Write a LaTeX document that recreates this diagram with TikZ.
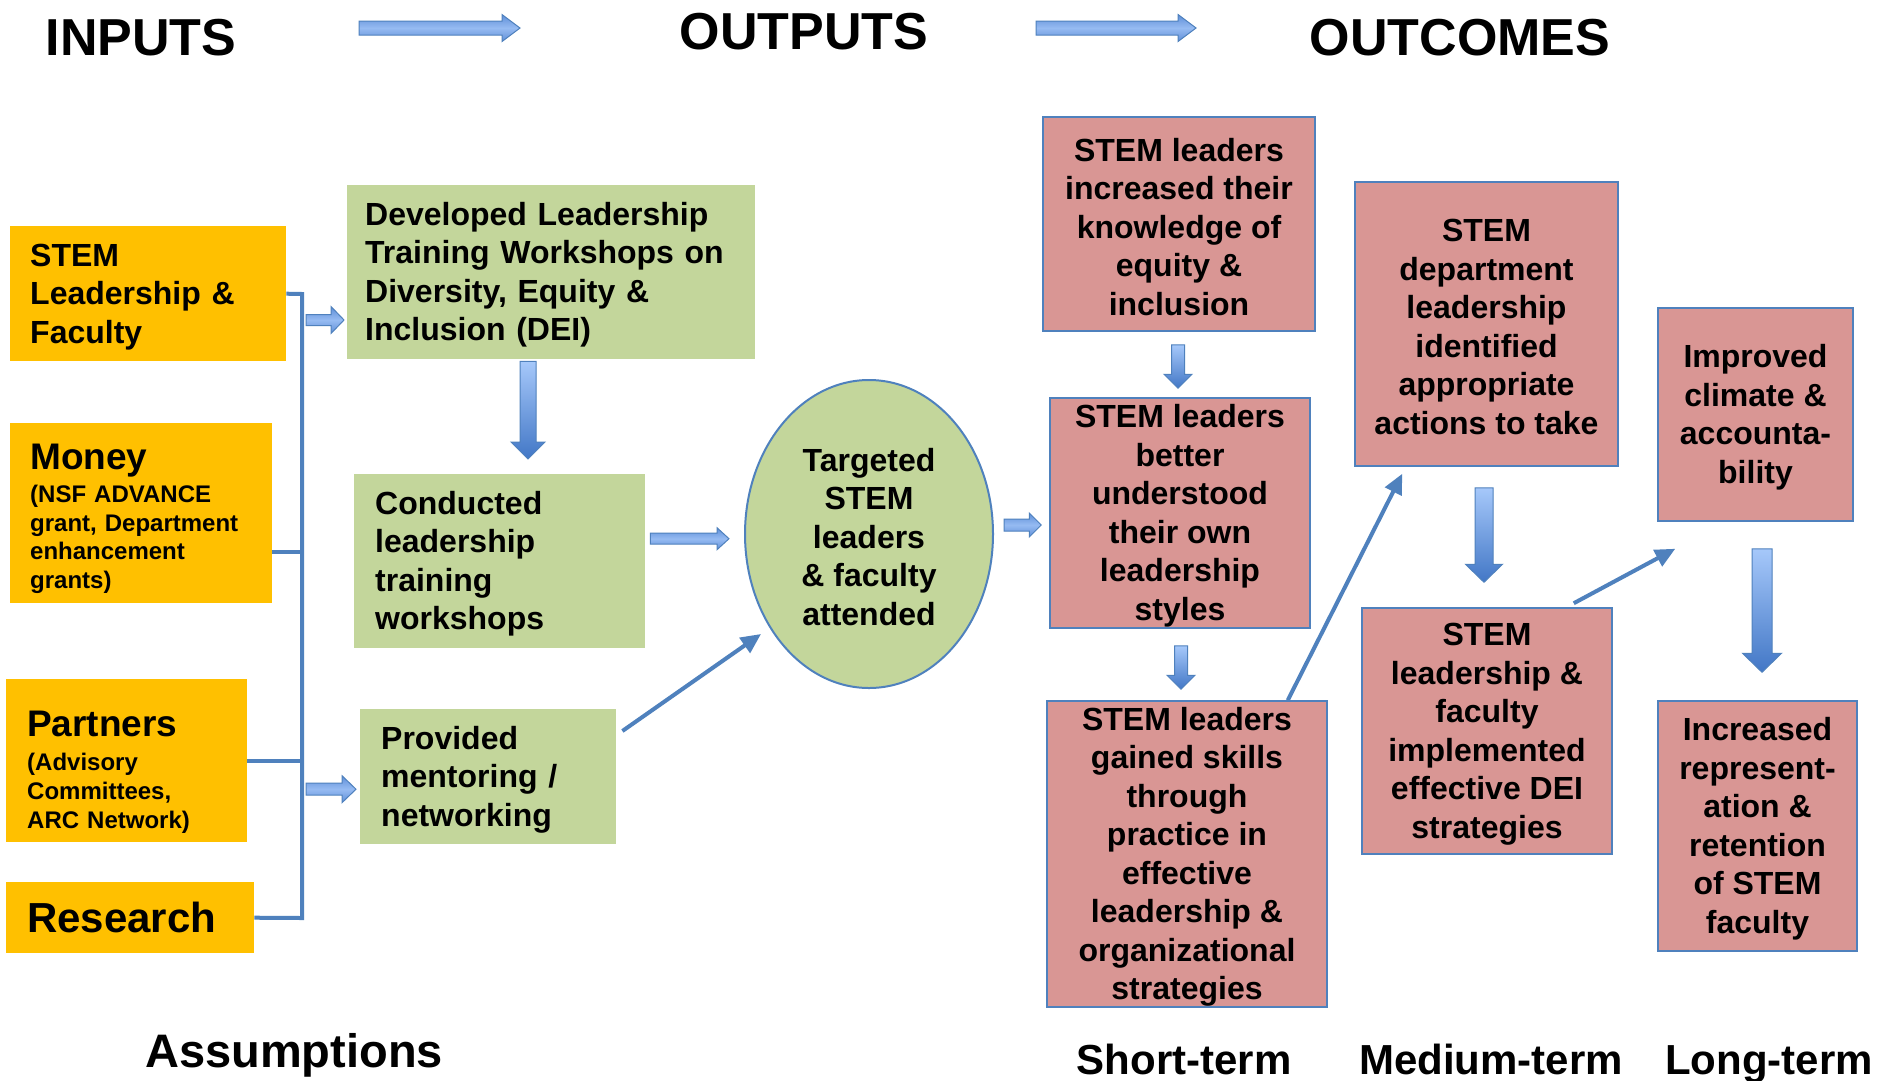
\documentclass[tikz,border=0pt]{standalone}
\usepackage{fontspec}
\setmainfont{Liberation Sans}
\usetikzlibrary{calc,shapes.geometric,arrows.meta}

\definecolor{inYellow}{HTML}{FFC000}
\definecolor{outGreen}{HTML}{C3D69B}
\definecolor{outPink}{HTML}{D99694}
\definecolor{linkBlue}{HTML}{4F81BD}
\definecolor{arrLight}{HTML}{96BBF2}
\definecolor{arrMid}{HTML}{5F8FD8}
\definecolor{arrTop}{HTML}{A6C8FA}
\definecolor{arrDark}{HTML}{4277C6}

% taller first line, so that a block of lines sits a little lower in its box
\newcommand{\firstline}{\rule{0pt}{28.5pt}}

\tikzset{
  body/.style={font=\bfseries\fontsize{32}{38.5}\selectfont},
  inbox/.style={fill=inYellow, anchor=north west, align=left, inner ysep=0pt},
  outbox/.style={fill=outGreen, anchor=north west, align=left, inner ysep=0pt, body,
    execute at begin node={\firstline}},
  resbox/.style={fill=outPink, draw=linkBlue, line width=1.5pt, align=center, inner sep=0pt, body},
  heading/.style={font=\bfseries\fontsize{52}{60}\selectfont, anchor=base},
  termlabel/.style={font=\bfseries\fontsize{42}{50}\selectfont, anchor=base},
  bracket/.style={draw=linkBlue, line width=4pt},
  thinarrow/.style={draw=linkBlue, line width=4pt, -{Triangle[length=20pt,width=18pt]}},
  hblock/.style={draw=linkBlue, line width=1pt, top color=arrMid, bottom color=arrMid, middle color=arrLight},
  vblock/.style={draw=linkBlue, line width=1pt, top color=arrTop, bottom color=arrDark},
}

% block arrow pointing right: tail, tip, shaft half-width, head half-width, head length
\newcommand{\rightblock}[5]{%
  \path[hblock] let \p1=(#1), \p2=(#2) in
    (\x1,\y1+#3pt) -- (\x2-#5pt,\y1+#3pt) -- (\x2-#5pt,\y1+#4pt) -- (\x2,\y1)
    -- (\x2-#5pt,\y1-#4pt) -- (\x2-#5pt,\y1-#3pt) -- (\x1,\y1-#3pt) -- cycle;}
% block arrow pointing down: tail, tip, shaft half-width, head half-width, head length
\newcommand{\downblock}[5]{%
  \path[vblock] let \p1=(#1), \p2=(#2) in
    (\x1-#3pt,\y1) -- (\x1-#3pt,\y2+#5pt) -- (\x1-#4pt,\y2+#5pt) -- (\x1,\y2)
    -- (\x1+#4pt,\y2+#5pt) -- (\x1+#3pt,\y2+#5pt) -- (\x1+#3pt,\y1) -- cycle;}

\begin{document}
\begin{tikzpicture}[x=1pt, y=-1pt]
\fill[white] (0,0) rectangle (1895,1080);
\useasboundingbox (0,0) rectangle (1895,1080);

% column headings
\node[heading] (hin)  at (141,55) {INPUTS};
\node[heading] (hout) at (804,49) {OUTPUTS};
\node[heading] (hoc)  at (1460,55) {OUTCOMES};
\coordinate (flowA0) at (359,28);
\coordinate (flowA1) at (520,28);
\coordinate (flowB0) at (1036,28);
\coordinate (flowB1) at (1196,28);
\rightblock{flowA0}{flowA1}{7}{13.5}{18}
\rightblock{flowB0}{flowB1}{7}{13.5}{18}

% inputs
\node[inbox, body, minimum width=276pt, minimum height=135pt, text width=236pt, inner xsep=20pt]
  (yl1) at (10,226) {\firstline STEM\\ Leadership \&\\ Faculty};
\node[inbox, font=\bfseries\fontsize{24}{28.6}\selectfont, minimum width=262pt, minimum height=180pt,
  text width=222pt, inner xsep=20pt]
  (yl2) at (10,423) {\rule{0pt}{37pt}{\fontsize{37}{40}\selectfont Money}\\[4pt] (NSF ADVANCE\\ grant, Department\\ enhancement\\ grants)};
\node[inbox, font=\bfseries\fontsize{24}{28.6}\selectfont, minimum width=241pt, minimum height=163pt,
  text width=199pt, inner xsep=21pt]
  (yl3) at (6,679) {\rule{0pt}{48pt}{\fontsize{37}{40}\selectfont Partners}\\[6pt] (Advisory\\ Committees,\\ ARC Network)};
\node[inbox, font=\bfseries\fontsize{42}{48}\selectfont, minimum width=248pt, minimum height=71pt,
  text width=206pt, inner xsep=21pt]
  (yl4) at (6,882) {Research};

% bracket gathering the inputs
\coordinate (spineTop) at (302,294);
\coordinate (spineBot) at (302,918);
\draw[bracket] (yl1.east) -- (spineTop) -- (spineBot) -- (yl4.east);
\draw[bracket] ($(yl2.east)+(0,39)$) -- ($(yl2.east -| spineTop)+(0,39)$);
\draw[bracket] (yl3.east) -- (yl3.east -| spineTop);

% outputs
\node[outbox, minimum width=408pt, minimum height=174pt, text width=372pt, inner xsep=18pt]
  (dev) at (347,185) {Developed Leadership\\ Training Workshops on\\ Diversity, Equity \&\\ Inclusion (DEI)};
\node[outbox, minimum width=291pt, minimum height=174pt, text width=249pt, inner xsep=21pt]
  (cond) at (354,474) {Conducted\\ leadership\\ training\\ workshops};
\node[outbox, minimum width=256pt, minimum height=135pt, text width=214pt, inner xsep=21pt]
  (prov) at (360,709) {Provided\\ mentoring /\\ networking};
\node[ellipse, fill=outGreen, draw=linkBlue, line width=2pt, minimum width=248pt, minimum height=308pt,
  inner sep=0pt, align=center, body]
  (tgt) at (869,534) {\firstline Targeted\\ STEM\\ leaders\\ \& faculty\\ attended};

\rightblock{$(spineTop)+(4,26)$}{$(dev.west |- spineTop)+(-3,26)$}{5.5}{13.5}{13}
\rightblock{$(spineTop |- prov.west)+(4,12.5)$}{$(prov.west)+(-4,12.5)$}{6}{13.5}{14}
\downblock{$(dev.south west)+(181,2)$}{$(cond.north west)+(174,-15)$}{8}{17}{17}
\rightblock{$(cond.east)+(5,-22.5)$}{$(tgt.west)+(-15,4.5)$}{5.5}{11}{12}
\draw[thinarrow] ($(prov.north east)+(6,22)$) -- ($(tgt.center)+(-108,100)$);

% outcomes
\node[resbox, minimum width=272pt, minimum height=214pt] (st1) at (1179,224)
  {\firstline STEM leaders\\ increased their\\ knowledge of\\ equity \&\\ inclusion};
\node[resbox, minimum width=260pt, minimum height=230pt] (st2) at (1180,513)
  {\firstline STEM leaders\\ better\\ understood\\ their own\\ leadership\\ styles};
\node[resbox, minimum width=280pt, minimum height=306pt] (st3) at (1187,854)
  {\firstline STEM leaders\\ gained skills\\ through\\ practice in\\ effective\\ leadership \&\\ organizational\\ strategies};
\node[resbox, minimum width=263pt, minimum height=284pt] (md1) at (1486.5,324)
  {\firstline STEM\\ department\\ leadership\\ identified\\ appropriate\\ actions to take};
\node[resbox, minimum width=250pt, minimum height=246pt] (md2) at (1487,731)
  {\firstline STEM\\ leadership \&\\ faculty\\ implemented\\ effective DEI\\ strategies};
\node[resbox, minimum width=195pt, minimum height=213pt] (lg1) at (1755.5,414.5)
  {\firstline Improved\\ climate \&\\ accounta-\\ bility};
\node[resbox, minimum width=199pt, minimum height=250pt] (lg2) at (1757.5,826)
  {\firstline Increased\\ represent-\\ ation \&\\ retention\\ of STEM\\ faculty};

\rightblock{$(tgt.east)+(10,-9)$}{$(st2.west)+(-8,12)$}{6}{12}{12}
\downblock{$(st1.south)+(-1,13)$}{$(st2.north)+(0,-9)$}{6.5}{14}{14}
\downblock{$(st2.south)+(1,17)$}{$(st3.north)+(0,-11)$}{6.5}{14}{14}
\downblock{$(md1.south)+(-2.5,21)$}{$(md2.north)+(0,-25)$}{9}{18.5}{18}
\downblock{$(lg1.south)+(6.5,27)$}{$(lg2.north)+(0,-28)$}{10}{19.5}{19}
\draw[thinarrow] ($(st3.north east)+(-40,0)$) -- ($(md1.south west)+(48,7)$);
\draw[thinarrow] ($(md2.north east)+(-39,-4)$) -- ($(lg1.south west)+(18,27)$);

% bottom labels
\node[font=\bfseries\fontsize{47}{54}\selectfont, anchor=base] (assume) at (294,1067) {Assumptions};
\node[termlabel] (tshort) at (1184,1074) {Short-term};
\node[termlabel] (tmed)   at (1491,1074) {Medium-term};
\node[termlabel] (tlong)  at (1769,1074) {Long-term};
\end{tikzpicture}
\end{document}
